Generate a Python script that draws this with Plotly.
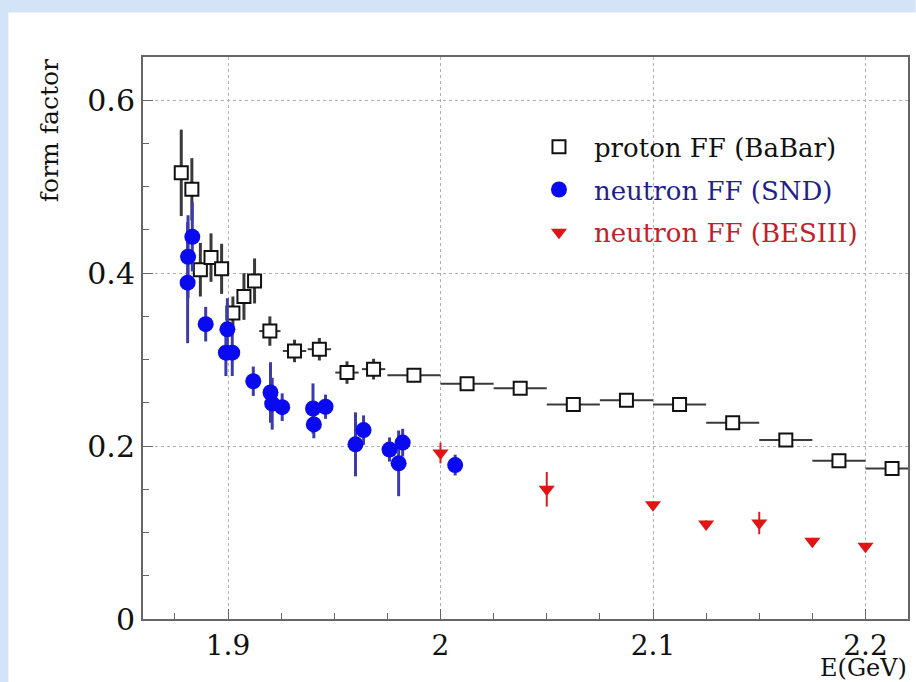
import plotly.graph_objects as go

# Proton form factor, BaBar
p_E = [1.878, 1.883, 1.887, 1.892, 1.897, 1.9023, 1.9075, 1.9125, 1.9197, 1.9313,
       1.943, 1.956, 1.9685, 1.9875, 2.0125, 2.0375, 2.0625, 2.0875, 2.1125, 2.1375,
       2.1625, 2.1875, 2.2125]
p_FF = [0.516, 0.497, 0.404, 0.418, 0.405, 0.354, 0.373, 0.391, 0.333, 0.310,
        0.312, 0.285, 0.289, 0.282, 0.272, 0.267, 0.248, 0.253, 0.248, 0.227,
        0.207, 0.183, 0.174]
p_dFF = [0.050, 0.036, 0.031, 0.028, 0.029, 0.019, 0.027, 0.026, 0.017, 0.013,
         0.013, 0.013, 0.012, 0.008, 0.007, 0.007, 0.006, 0.006, 0.006, 0.006,
         0.006, 0.006, 0.006]
p_dE = [0, 0, 0, 0, 0, 0, 0, 0, 0.005, 0.0055,
        0.0055, 0.0055, 0.0055, 0.0125, 0.0125, 0.0125, 0.0125, 0.0125, 0.0125, 0.0125,
        0.0125, 0.0125, 0.0125]

# Neutron form factor, SND
n_E = [1.8832, 1.8812, 1.881, 1.8895, 1.8997, 1.899, 1.902, 1.9119, 1.920, 1.9208,
       1.9255, 1.940, 1.9404, 1.9459, 1.960, 1.9638, 1.976, 1.9822, 1.9803, 2.0069]
n_FF = [0.442, 0.419, 0.389, 0.341, 0.335, 0.308, 0.308, 0.275, 0.262, 0.249,
        0.245, 0.2435, 0.225, 0.2455, 0.202, 0.2185, 0.196, 0.204, 0.180, 0.178]
n_dFF = [0.040, 0.048, 0.070, 0.020, 0.036, 0.027, 0.027, 0.017, 0.035, 0.030,
         0.016, 0.029, 0.016, 0.014, 0.037, 0.017, 0.014, 0.016, 0.038, 0.012]

# Neutron form factor, BESIII
b_E = [2.000, 2.050, 2.100, 2.125, 2.150, 2.175, 2.200]
b_FF = [0.192, 0.150, 0.132, 0.110, 0.111, 0.090, 0.084]
b_dFF = [0.012, 0.020, 0.004, 0.004, 0.013, 0.004, 0.004]

x_ticks = [1.9, 2.0, 2.1, 2.2]
x_ticklabels = ["1.9", "2", "2.1", "2.2"]
y_ticks = [0, 0.2, 0.4, 0.6]
y_ticklabels = ["0", "0.2", "0.4", "0.6"]

SERIF = "DejaVu Serif"

fig = go.Figure()

fig.add_trace(go.Scatter(
    x=p_E, y=p_FF, mode="markers",
    name="proton FF (BaBar)", legendgroup="p",
    marker=dict(symbol="square", size=13, color="white",
                line=dict(color="#111111", width=2)),
    error_y=dict(type="data", array=p_dFF, color="#3a3a3a", thickness=3, width=0),
    error_x=dict(type="data", array=p_dE, color="#3a3a3a", thickness=2, width=0),
))

fig.add_trace(go.Scatter(
    x=n_E, y=n_FF, mode="markers",
    name="<span style='color:#1f1f90'>neutron FF (SND)</span>", legendgroup="n",
    marker=dict(symbol="circle", size=16, color="#0a0af0", line=dict(width=0)),
    error_y=dict(type="data", array=n_dFF, color="#3c3ca6", thickness=3, width=0),
))

fig.add_trace(go.Scatter(
    x=b_E, y=b_FF, mode="markers",
    name="<span style='color:#c2202a'>neutron FF (BESIII)</span>", legendgroup="b",
    marker=dict(symbol="triangle-down", size=14, color="#e01414", line=dict(width=0)),
    error_y=dict(type="data", array=b_dFF, color="#d02020", thickness=2, width=0),
))

axis_common = dict(
    showline=True, linecolor="#666666", linewidth=2, mirror=True,
    ticks="inside", tickcolor="#666666", tickwidth=1, ticklen=10,
    showgrid=True, gridcolor="#b0b0b0", gridwidth=1, griddash="dot",
    zeroline=False,
)

fig.update_layout(
    width=916, height=682,
    margin=dict(l=143, r=6, t=57, b=63),
    paper_bgcolor="white", plot_bgcolor="white",
    showlegend=True,
    legend=dict(
        x=0.498, y=0.882, xanchor="left", yanchor="top",
        bgcolor="rgba(0,0,0,0)", borderwidth=0,
        font=dict(family=SERIF, size=26, color="#111111"),
        tracegroupgap=6, itemwidth=60,
    ),
    xaxis=dict(
        range=[1.86, 2.22], tickvals=x_ticks, ticktext=x_ticklabels,
        tickfont=dict(family=SERIF, size=28, color="#111111"),
        minor=dict(dtick=0.025, tick0=1.9, ticks="inside", ticklen=6,
                   tickcolor="#666666", showgrid=False),
        **axis_common,
    ),
    yaxis=dict(
        range=[0, 0.65], tickvals=y_ticks, ticktext=y_ticklabels,
        tickfont=dict(family=SERIF, size=30, color="#111111"),
        minor=dict(dtick=0.05, tick0=0, ticks="inside", ticklen=6,
                   tickcolor="#666666", showgrid=False),
        **axis_common,
    ),
    annotations=[
        dict(text="form factor", textangle=-90, xref="paper", yref="paper",
             x=-0.122, y=1.0, xanchor="center", yanchor="top", showarrow=False,
             font=dict(family=SERIF, size=25, color="#111111")),
        dict(text="E(GeV)", xref="paper", yref="paper",
             x=1.0, y=-0.0605, xanchor="right", yanchor="top", showarrow=False,
             borderpad=0,
             font=dict(family=SERIF, size=24, color="#111111")),
    ],
    shapes=[
        # light blue slide border along the top and left edges
        dict(type="rect", xref="paper", yref="paper", layer="below",
             x0=-0.19, x1=1.01, y0=1.079, y1=1.11,
             fillcolor="#d2e4f5", line=dict(width=0)),
        dict(type="rect", xref="paper", yref="paper", layer="below",
             x0=-0.19, x1=-0.176, y0=-0.12, y1=1.11,
             fillcolor="#d2e4f5", line=dict(width=0)),
    ],
)

fig.write_html("out.html")
